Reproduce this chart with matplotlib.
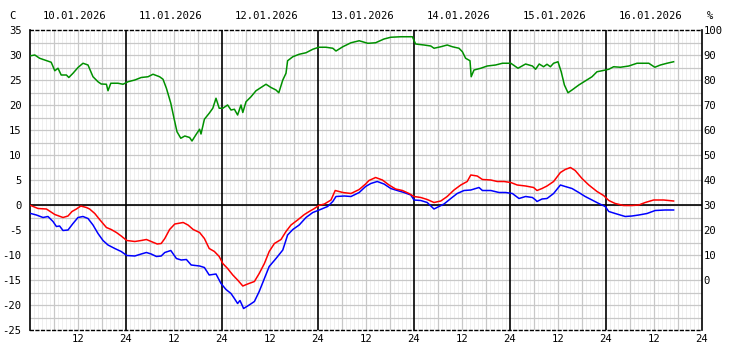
import matplotlib
matplotlib.use("Agg")
import matplotlib.pyplot as plt
import numpy as np

# ---- data (hours since 10.01.2026 00:00) ----
day_labels = ["10.01.2026", "11.01.2026", "12.01.2026", "13.01.2026",
              "14.01.2026", "15.01.2026", "16.01.2026"]
hour_tick_labels = ["12", "24"] * 7

temp_t = [0.2, 2, 4.1, 6.2, 8.25, 9.5, 10.5, 11.6, 12.7, 14.1, 14.9, 16.2, 17.4, 19.1, 20.3,
          21.6, 22.8, 24.2, 26.2, 27.8, 29.1, 30.3, 31.8, 32.8, 33.7, 34.9, 36.2, 38.3, 39.5,
          40.8, 42.4, 43.6, 44.8, 46.1, 47.3, 48.2, 49.4, 50.7, 51.9, 53.2, 54.4, 56.1, 57.3,
          58.6, 59.8, 61.1, 62.75, 64, 65.25, 66.9, 68.6, 69.8, 71.1, 72.2, 73.6, 75.25, 76.3,
          78.2, 80.25, 82.3, 83.9, 84.75, 86.4, 88.1, 89.75, 91.4, 93.1, 94.75, 96, 97.7, 99.3,
          101, 102.7, 104.3, 106, 107.7, 109.3, 110.2, 111.8, 113.1, 115.2, 116.8, 118.5, 120.2,
          121.8, 123.9, 125.9, 126.75, 128, 129.25, 130.9, 132.6, 133.8, 135.1, 136.3, 138,
          139.7, 141.75, 143.4, 144.7, 146.3, 148.4, 150.5, 152.2, 153.8, 155.9, 158.4, 160.9]
temp_v = [-0.1, -0.7, -0.8, -1.9, -2.5, -2.2, -1.3, -0.8, -0.2, -0.5, -0.8, -1.7, -2.9, -4.5, -4.9,
          -5.5, -6.2, -7.1, -7.3, -7.1, -6.9, -7.3, -7.8, -7.7, -6.7, -4.9, -3.8, -3.5, -4.0,
          -4.9, -5.5, -6.7, -8.7, -9.3, -10.3, -11.7, -12.7, -14.0, -15.0, -16.2, -15.8, -15.3, -13.7,
          -11.7, -9.3, -7.7, -6.9, -5.3, -4.0, -3.0, -1.9, -1.3, -0.7, -0.1, 0.2, 1.0, 2.9,
          2.5, 2.3, 3.1, 4.2, 4.9, 5.5, 5.0, 4.0, 3.2, 2.9, 2.3, 1.7, 1.5, 1.1,
          0.5, 0.8, 1.7, 3.0, 4.0, 4.7, 6.0, 5.8, 5.1, 5.0, 4.7, 4.7, 4.5,
          4.0, 3.8, 3.5, 2.9, 3.3, 3.8, 4.7, 6.5, 7.1, 7.5, 6.9, 5.3,
          4.0, 2.7, 1.9, 0.9, 0.3, -0.1, -0.1, 0.0, 0.5, 1.0, 1.0, 0.8]

dew_t = [0.2, 1.6, 3.25, 4.5, 5.75, 6.6, 7.4, 8.25, 9.5, 10.75, 12, 13.25, 14.5, 15.75, 17,
         18.25, 19.5, 21.2, 22.8, 24.2, 26.2, 27.8, 29.1, 30.3, 31.6, 32.8, 33.7, 35.2, 36.6,
         37.8, 39.1, 40.3, 42.4, 43.6, 44.8, 46.5, 47.75, 49, 50.25, 51.1, 51.9, 52.5, 53.4,
         54.8, 56.1, 57.3, 58.6, 59.8, 61.5, 63.2, 64.4, 65.7, 67.3, 69, 70.7, 72.3, 74.4,
         75.7, 76.5, 78.6, 80.25, 82.3, 83.9, 85.2, 86.8, 88.5, 90.2, 91.8, 93.5, 95.2, 96,
         97.7, 99.3, 101, 102.25, 103.5, 105.2, 106.8, 108.5, 110.2, 112.25, 113.1, 115.2,
         117.25, 118.9, 120.6, 122.25, 123.9, 125.6, 126.4, 126.75, 128, 129.25, 130.9, 132.6,
         133.8, 135.5, 137.2, 138.8, 140.5, 142.2, 143.8, 144.7, 146.3, 148.8, 150.5, 152.2,
         154.25, 156.3, 158.8, 160.9]
dew_v = [-1.7, -2.0, -2.5, -2.3, -3.3, -4.3, -4.2, -5.1, -5.0, -3.7, -2.5, -2.3, -2.7, -4.0, -5.7,
         -7.1, -8.0, -8.7, -9.3, -10.1, -10.2, -9.8, -9.5, -9.8, -10.3, -10.2, -9.5, -9.1, -10.7,
         -11.0, -10.9, -12.0, -12.2, -12.5, -14.0, -13.8, -15.7, -16.9, -17.7, -18.7, -19.7, -19.1, -20.7,
         -20.0, -19.3, -17.3, -14.7, -12.3, -10.7, -9.0, -6.0, -4.9, -4.0, -2.5, -1.5, -1.0, -0.3,
         0.7, 1.7, 1.8, 1.7, 2.5, 3.7, 4.3, 4.7, 4.2, 3.3, 2.9, 2.5, 2.0, 1.0,
         0.9, 0.5, -0.8, -0.3, 0.2, 1.3, 2.3, 2.9, 3.0, 3.5, 2.9, 2.9,
         2.5, 2.5, 2.3, 1.3, 1.7, 1.5, 1.0, 0.7, 1.2, 1.3, 2.3, 4.0,
         3.7, 3.3, 2.5, 1.7, 1.0, 0.3, -0.3, -1.3, -1.7, -2.3, -2.2, -2.0,
         -1.7, -1.1, -1.0, -1.0]

hum_t = [0.2, 1.2, 2.4, 3.7, 5.3, 6.2, 7, 7.8, 9.1, 9.7, 10.75, 12, 13.25, 14.5, 15.75, 17,
         17.8, 19.1, 19.5, 20.2, 22, 23.25, 24.5, 26.2, 27.8, 29.5, 30.75, 32.4, 33.25, 34.1,
         35.2, 36, 36.75, 37.7, 38.7, 39.9, 40.5, 41.6, 42.4, 42.75, 43.6, 44.8, 45.7, 46.5,
         47.3, 48.2, 49.4, 50.25, 51.1, 51.9, 52.75, 53.2, 54, 55.25, 56.5, 57.75, 59, 60.25,
         61.5, 62.2, 63.2, 64, 64.4, 65.7, 67.3, 69, 70.7, 72.2, 74, 75.7, 76.5, 78.2, 80.25,
         82.3, 84.4, 84.75, 86.4, 88.5, 90.2, 92.7, 95.6, 96.4, 98.5, 100.2, 101, 102.7, 104.3,
         105.6, 107.25, 108.1, 108.9, 110, 110.3, 111, 112.7, 114.3, 116.4, 118.1, 120.2, 122,
         123.9, 125.6, 126.4, 127.3, 128.4, 129.25, 130.1, 130.9, 132, 132.8, 133.6, 134.5,
         135.5, 137.2, 138.8, 140.5, 141.75, 143, 144.7, 145.9, 147.6, 149.7, 151.75, 154.7,
         156.2, 157.6, 159.25, 160.9]
hum_v = [89.7, 90.0, 88.7, 88.0, 87.1, 83.7, 84.7, 82.0, 82.0, 81.0, 82.7, 85.0, 86.7, 86.0, 81.3, 79.3,
         78.4, 78.3, 75.7, 78.7, 78.7, 78.3, 79.3, 80.0, 81.0, 81.3, 82.3, 81.3, 80.3, 76.7,
         70.7, 64.7, 59.3, 56.7, 57.6, 57.0, 55.6, 58.4, 60.3, 58.4, 64.3, 66.7, 68.7, 72.7,
         68.7, 68.7, 70.0, 68.0, 68.3, 66.0, 70.0, 67.0, 71.3, 73.3, 75.7, 77.0, 78.3, 77.0,
         76.0, 74.9, 80.0, 82.7, 87.7, 89.3, 90.3, 90.9, 92.3, 93.1, 93.1, 92.7, 91.6, 93.3, 94.9,
         95.7, 94.7, 94.7, 94.9, 96.4, 97.1, 97.3, 97.3, 94.4, 94.0, 93.6, 92.7, 93.3, 94.0,
         93.3, 92.7, 91.3, 88.7, 87.7, 81.3, 84.0, 84.7, 85.6, 86.0, 86.7, 86.7, 84.7,
         86.4, 85.6, 84.3, 86.4, 85.3, 86.3, 85.3, 86.7, 87.3, 83.3, 78.0, 74.9,
         76.0, 78.0, 79.6, 81.3, 83.3, 83.7, 84.3, 85.3, 85.1, 85.6, 86.7, 86.7,
         85.1, 86.0, 86.7, 87.3]

# ---- figure ----
W, H = 732, 360
fig = plt.figure(figsize=(W / 100, H / 100), dpi=100)
L, R, B, T = 30, 702, 330, 30
ax = fig.add_axes([L / W, 1 - B / H, (R - L) / W, (B - T) / H])
ax.set_xlim(0, 168)
ax.set_ylim(-25, 35)

font = dict(family="DejaVu Sans Mono", fontsize=7.6, color="black")

# grid: hourly light, 6-hourly gray, daily black
for h in range(1, 168):
    if h % 24 == 0:
        continue
    if h % 6 == 0:
        ax.axvline(h, color="#c8c8c8", lw=0.9, zorder=1)
    else:
        ax.axvline(h, color="#ededed", lw=0.6, zorder=0.5)
for y in np.arange(-22.5, 35, 2.5):
    ax.axhline(y, color="#c8c8c8", lw=0.9, zorder=1)
for d in range(1, 7):
    ax.axvline(d * 24, color="black", lw=1.2, zorder=2)
ax.axhline(0, color="black", lw=1.2, zorder=2)

ax.plot(hum_t, [(h - 30) / 2 for h in hum_v], color="#009000", lw=1.1, zorder=3)
ax.plot(dew_t, dew_v, color="#0000ff", lw=1.1, zorder=4)
ax.plot(temp_t, temp_v, color="#ff0000", lw=1.1, zorder=5)

# spines
for s in ("top", "bottom"):
    ax.spines[s].set_linestyle((0, (2, 2)))
    ax.spines[s].set_linewidth(1.0)
for s in ("left", "right"):
    ax.spines[s].set_linewidth(1.2)

ax.set_xticks(range(12, 169, 12))
ax.set_xticklabels(hour_tick_labels, **font)
ax.set_yticks(range(-25, 36, 5))
ax.set_yticklabels([str(v) for v in range(-25, 36, 5)], **font)
ax.tick_params(length=0)
ax.tick_params(axis="y", pad=6)
ax.tick_params(axis="x", pad=3)

ax2 = ax.twinx()
ax2.set_ylim(-20, 100)
ax2.set_yticks(range(0, 101, 10))
ax2.set_yticklabels([str(v) for v in range(0, 101, 10)], **font)
ax2.tick_params(length=0, pad=1)
for s in ax2.spines.values():
    s.set_visible(False)

for i, lab in enumerate(day_labels):
    fig.text((L + 96 * i + 45) / W, 1 - 16 / H, lab, ha="center", va="center", **font)
fig.text(12 / W, 1 - 16 / H, "C", ha="center", va="center", **font)
fig.text(710 / W, 1 - 16 / H, "%", ha="center", va="center", **font)

fig.savefig("out.png", dpi=100, facecolor="white")
